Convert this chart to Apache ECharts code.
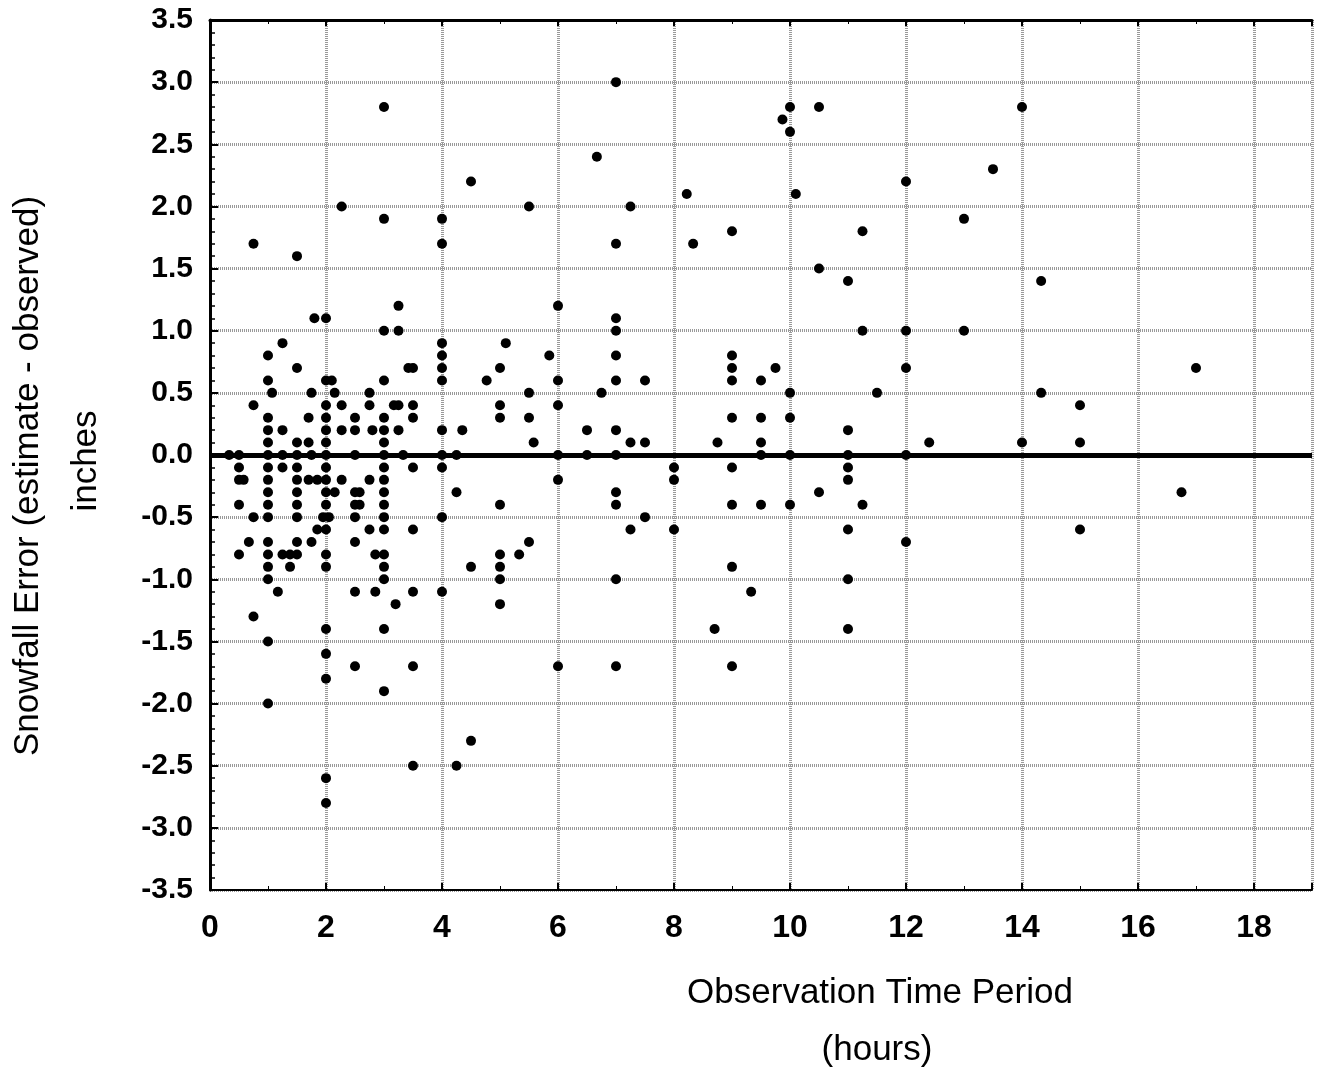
<!DOCTYPE html>
<html>
<head>
<meta charset="utf-8">
<script src="https://cdn.jsdelivr.net/npm/echarts@6/dist/echarts.min.js"></script>
<style>
html,body{margin:0;padding:0;background:#fff;}
#chart{width:1329px;height:1072px;}
</style>
</head>
<body>
<div id="chart"></div>
<script>
// [hours, snowfall error (inches)]
const obs0to2h = [
  [0.33,0],[0.5,0],[0.5,-0.1],[0.5,-0.2],[0.5,-0.4],[0.5,-0.8],[0.58,-0.2],[0.67,-0.7],
  [0.75,1.7],[0.75,0.4],[0.75,-0.5],[0.75,-1.3],
  [1,0.8],[1,0.6],[1,0.3],[1,0.2],[1,0.1],[1,0],[1,-0.1],[1,-0.2],[1,-0.3],[1,-0.4],[1,-0.5],
  [1,-0.7],[1,-0.8],[1,-0.9],[1,-1.0],[1,-1.5],[1,-2.0],
  [1.07,0.5],[1.17,-1.1],
  [1.25,0.9],[1.25,0.2],[1.25,0],[1.25,-0.1],[1.25,-0.8],[1.38,-0.8],[1.38,-0.9],
  [1.5,1.6],[1.5,0.7],[1.5,0.1],[1.5,0],[1.5,-0.1],[1.5,-0.2],[1.5,-0.3],[1.5,-0.4],[1.5,-0.5],
  [1.5,-0.7],[1.5,-0.8],
  [1.7,0.3],[1.7,0.1],[1.7,-0.2],[1.75,0.5],[1.75,0],[1.75,-0.7],[1.8,1.1],
  [1.85,-0.2],[1.85,-0.6],[1.95,-0.5]
];
const obs2to4h = [
  [2,1.1],[2,0.6],[2,0.4],[2,0.3],[2,0.2],[2,0.1],[2,0],[2,-0.1],[2,-0.2],[2,-0.3],[2,-0.4],
  [2,-0.6],[2,-0.8],[2,-0.9],[2,-1.4],[2,-1.6],[2,-1.8],[2,-2.6],[2,-2.8],
  [2.05,-0.5],[2.1,0.6],[2.15,0.5],[2.15,-0.3],
  [2.27,2.0],[2.27,0.4],[2.27,0.2],[2.27,-0.2],
  [2.5,0.3],[2.5,0.2],[2.5,0],[2.5,-0.3],[2.5,-0.4],[2.5,-0.5],[2.5,-0.7],[2.5,-1.1],[2.5,-1.7],
  [2.58,-0.3],[2.58,-0.4],
  [2.75,0.5],[2.75,0.4],[2.75,-0.2],[2.75,-0.6],[2.8,0.2],[2.85,-0.8],[2.85,-1.1],
  [3,2.8],[3,1.9],[3,1.0],[3,0.6],[3,0.3],[3,0.2],[3,0.1],[3,0],[3,-0.1],[3,-0.2],[3,-0.3],
  [3,-0.4],[3,-0.5],[3,-0.6],[3,-0.8],[3,-0.9],[3,-1.0],[3,-1.4],[3,-1.9],
  [3.17,0.4],[3.2,-1.2],[3.25,1.2],[3.25,1.0],[3.25,0.4],[3.25,0.2],[3.33,0],[3.42,0.7],
  [3.5,0.7],[3.5,0.4],[3.5,0.3],[3.5,-0.1],[3.5,-0.6],[3.5,-1.1],[3.5,-1.7],[3.5,-2.5]
];
const obs4to8h = [
  [4,1.9],[4,1.7],[4,0.9],[4,0.8],[4,0.7],[4,0.6],[4,0.2],[4,0],[4,-0.1],[4,-0.5],[4,-1.1],
  [4.25,0],[4.25,-0.3],[4.25,-2.5],[4.35,0.2],[4.5,2.2],[4.5,-0.9],[4.5,-2.3],[4.77,0.6],
  [5,0.7],[5,0.4],[5,0.3],[5,-0.4],[5,-0.8],[5,-0.9],[5,-1.0],[5,-1.2],[5.1,0.9],[5.33,-0.8],
  [5.5,2.0],[5.5,0.5],[5.5,0.3],[5.5,-0.7],[5.58,0.1],[5.85,0.8],
  [6,1.2],[6,0.6],[6,0.4],[6,0],[6,-0.2],[6,-1.7],[6.5,0.2],[6.5,0],[6.67,2.4],[6.75,0.5],
  [7,3.0],[7,1.7],[7,1.1],[7,1.0],[7,0.8],[7,0.6],[7,0.2],[7,0],[7,-0.3],[7,-0.4],[7,-1.0],[7,-1.7],
  [7.25,2.0],[7.25,0.1],[7.25,-0.6],[7.5,0.6],[7.5,0.1],[7.5,-0.5]
];
const obs8to19h = [
  [8,-0.1],[8,-0.2],[8,-0.6],[8.22,2.1],[8.33,1.7],[8.7,-1.4],[8.75,0.1],
  [9,1.8],[9,0.8],[9,0.7],[9,0.6],[9,0.3],[9,-0.1],[9,-0.4],[9,-0.9],[9,-1.7],[9.33,-1.1],
  [9.5,0.6],[9.5,0.3],[9.5,0.1],[9.5,0],[9.5,-0.4],[9.75,0.7],[9.87,2.7],
  [10,2.8],[10,2.6],[10,0.5],[10,0.3],[10,0],[10,-0.4],[10.1,2.1],[10.5,2.8],[10.5,1.5],[10.5,-0.3],
  [11,1.4],[11,0.2],[11,0],[11,-0.1],[11,-0.2],[11,-0.6],[11,-1.0],[11,-1.4],
  [11.25,1.8],[11.25,1.0],[11.25,-0.4],[11.5,0.5],
  [12,2.2],[12,1.0],[12,0.7],[12,0],[12,-0.7],[12.4,0.1],[13,1.9],[13,1.0],[13.5,2.3],
  [14,2.8],[14,0.1],[14.33,1.4],[14.33,0.5],[15,0.4],[15,0.1],[15,-0.6],[16.75,-0.3],[17,0.7]
];
const xTitle = ['Observation Time Period', '(hours)'];
const yTitle = ['Snowfall Error (estimate - observed)', 'inches'];

const allPoints = obs0to2h.concat(obs2to4h, obs4to8h, obs8to19h);

const labelFont = '"Liberation Sans Narrow", "Arial Narrow", "Liberation Sans", Arial';
const titleFont = '35px "Liberation Sans", Arial';

const chart = echarts.init(document.getElementById('chart'), null, {renderer: 'canvas'});
const gridLine = {show: true, lineStyle: {color: '#999', width: 3, type: [1, 1]}};
chart.setOption({
  backgroundColor: '#fff',
  animation: false,
  grid: {left: 210, top: 20, width: 1102, height: 870, containLabel: false},
  xAxis: [{
    type: 'value', min: 0, max: 19, interval: 2, position: 'bottom',
    axisLine: {show: true, onZero: false, lineStyle: {color: '#000', width: 2}},
    axisTick: {show: true, inside: true, length: 7, lineStyle: {color: '#000', width: 2}},
    minorTick: {show: true, splitNumber: 2, length: 4, lineStyle: {color: '#000'}},
    axisLabel: {show: true, color: '#000', fontFamily: labelFont, fontWeight: 'bold', fontSize: 32, margin: 22,
      formatter: v => (v % 2 === 0 && v <= 18) ? String(v) : ''},
    splitLine: gridLine
  }, {
    type: 'value', min: 0, max: 19, interval: 2, position: 'top',
    axisLine: {show: true, onZero: false, lineStyle: {color: '#000', width: 3}},
    axisTick: {show: true, inside: true, length: 6, lineStyle: {color: '#000', width: 2}},
    minorTick: {show: true, splitNumber: 2, length: 4, lineStyle: {color: '#000'}},
    axisLabel: {show: false}, splitLine: {show: false}
  }],
  yAxis: {
    type: 'value', min: -3.5, max: 3.5, interval: 0.5,
    axisLine: {show: true, onZero: false, lineStyle: {color: '#000', width: 3}},
    axisTick: {show: true, inside: true, length: 8, lineStyle: {color: '#000', width: 2}},
    minorTick: {show: true, splitNumber: 5, length: 5, lineStyle: {color: '#000', width: 1.5}},
    axisLabel: {color: '#000', fontFamily: labelFont, fontWeight: 'bold', fontSize: 30, margin: 17,
      formatter: v => v.toFixed(1)},
    splitLine: gridLine
  },
  graphic: [
    {type: 'text', x: 28, y: 476, rotation: Math.PI / 2,
      style: {text: yTitle[0], font: titleFont, fill: '#000', align: 'center', verticalAlign: 'middle'}},
    {type: 'text', x: 86, y: 461, rotation: Math.PI / 2,
      style: {text: yTitle[1], font: titleFont, fill: '#000', align: 'center', verticalAlign: 'middle'}},
    {type: 'text', x: 880, y: 993,
      style: {text: xTitle[0], font: titleFont, fill: '#000', align: 'center', verticalAlign: 'middle'}},
    {type: 'text', x: 877, y: 1050,
      style: {text: xTitle[1], font: titleFont, fill: '#000', align: 'center', verticalAlign: 'middle'}}
  ],
  series: [{
    type: 'scatter',
    xAxisIndex: 0,
    symbol: 'circle',
    symbolSize: 10,
    itemStyle: {color: '#000', opacity: 1},
    data: allPoints,
    z: 3,
    markLine: {
      silent: true, symbol: ['none', 'none'], label: {show: false},
      lineStyle: {color: '#000', width: 5, type: 'solid', opacity: 1},
      data: [{yAxis: 0}]
    }
  }]
});
</script>
</body>
</html>
